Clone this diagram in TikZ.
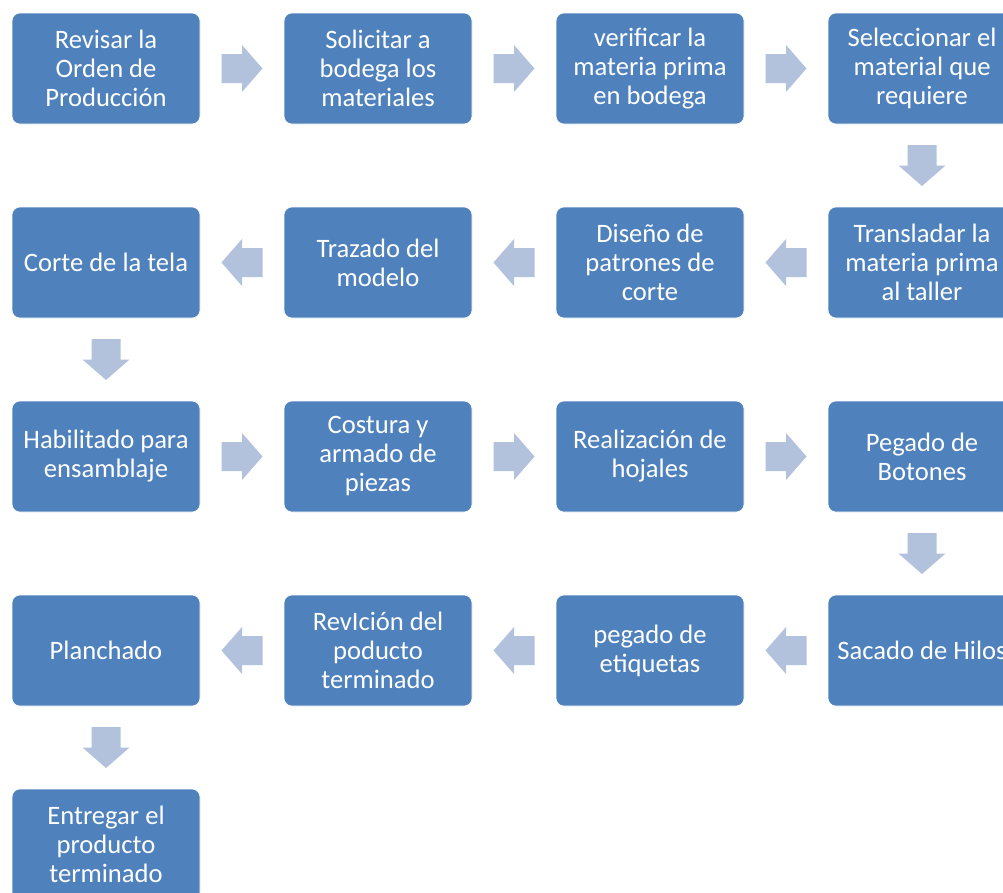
\documentclass[tikz,border=0pt]{standalone}
\usepackage{fontspec}
\setmainfont{Carlito}
\usetikzlibrary{calc}

\definecolor{stepblue}{HTML}{4F81BD}
\definecolor{arrowblue}{HTML}{B2C2DD}

\tikzset{
  stepbox/.style={fill=stepblue, draw=white, line width=0.6pt,
    rounded corners=8pt, minimum width=188pt, minimum height=111pt,
    inner sep=0pt, text=white, align=center,
    font=\fontsize{26.6pt}{29pt}\selectfont},
  arrowfill/.style={fill=arrowblue, draw=none}
}

% block arrow centred between two anchors, pointing along angle #3
\newcommand\flowarrow[3]{%
  \path ($(#1)!0.5!(#2)$) coordinate (mid);
  \fill[arrowfill, shift={(mid)}, rotate=#3]
    (-20.5,-14.5) -- (0,-14.5) -- (0,-23.5) -- (20.5,0)
    -- (0,23.5) -- (0,14.5) -- (-20.5,14.5) -- cycle;}

\begin{document}
\begin{tikzpicture}[x=1pt, y=1pt]
  \clip (0,0) rectangle (1003,-892);
  \fill[white] (0,0) rectangle (1003,-892);

  % row 1
  \node[stepbox] (a1) at (106,-68.5) {Revisar la\\Orden de\\Producción};
  \node[stepbox] (a2) at (378,-68.5) {Solicitar a\\bodega los\\materiales};
  \node[stepbox] (a3) at (650,-68.5) {verificar la\\materia prima\\en bodega};
  \node[stepbox] (a4) at (922,-68.5) {Seleccionar el\\material que\\requiere};
  % row 2
  \node[stepbox] (b4) at (922,-262.5) {Transladar la\\materia prima\\al taller};
  \node[stepbox] (b3) at (650,-262.5) {Diseño de\\patrones de\\corte};
  \node[stepbox] (b2) at (378,-262.5) {Trazado del\\modelo};
  \node[stepbox] (b1) at (106,-262.5) {Corte de la tela};
  % row 3
  \node[stepbox] (c1) at (106,-456.5) {Habilitado para\\ensamblaje};
  \node[stepbox] (c2) at (378,-456.5) {Costura y\\armado de\\piezas};
  \node[stepbox] (c3) at (650,-456.5) {Realización de\\hojales};
  \node[stepbox] (c4) at (922,-456.5) {Pegado de\\Botones};
  % row 4
  \node[stepbox] (d4) at (922,-650.5) {Sacado de Hilos};
  \node[stepbox] (d3) at (650,-650.5) {pegado de\\etiquetas};
  \node[stepbox] (d2) at (378,-650.5) {RevIción del\\poducto\\terminado};
  \node[stepbox] (d1) at (106,-650.5) {Planchado};
  % row 5
  \node[stepbox] (e1) at (106,-844.5) {Entregar el\\producto\\terminado};

  % connectors
  \flowarrow{a1.east}{a2.west}{0}
  \flowarrow{a2.east}{a3.west}{0}
  \flowarrow{a3.east}{a4.west}{0}
  \flowarrow{a4.south}{b4.north}{-90}
  \flowarrow{b4.west}{b3.east}{180}
  \flowarrow{b3.west}{b2.east}{180}
  \flowarrow{b2.west}{b1.east}{180}
  \flowarrow{b1.south}{c1.north}{-90}
  \flowarrow{c1.east}{c2.west}{0}
  \flowarrow{c2.east}{c3.west}{0}
  \flowarrow{c3.east}{c4.west}{0}
  \flowarrow{c4.south}{d4.north}{-90}
  \flowarrow{d4.west}{d3.east}{180}
  \flowarrow{d3.west}{d2.east}{180}
  \flowarrow{d2.west}{d1.east}{180}
  \flowarrow{d1.south}{e1.north}{-90}
\end{tikzpicture}
\end{document}
